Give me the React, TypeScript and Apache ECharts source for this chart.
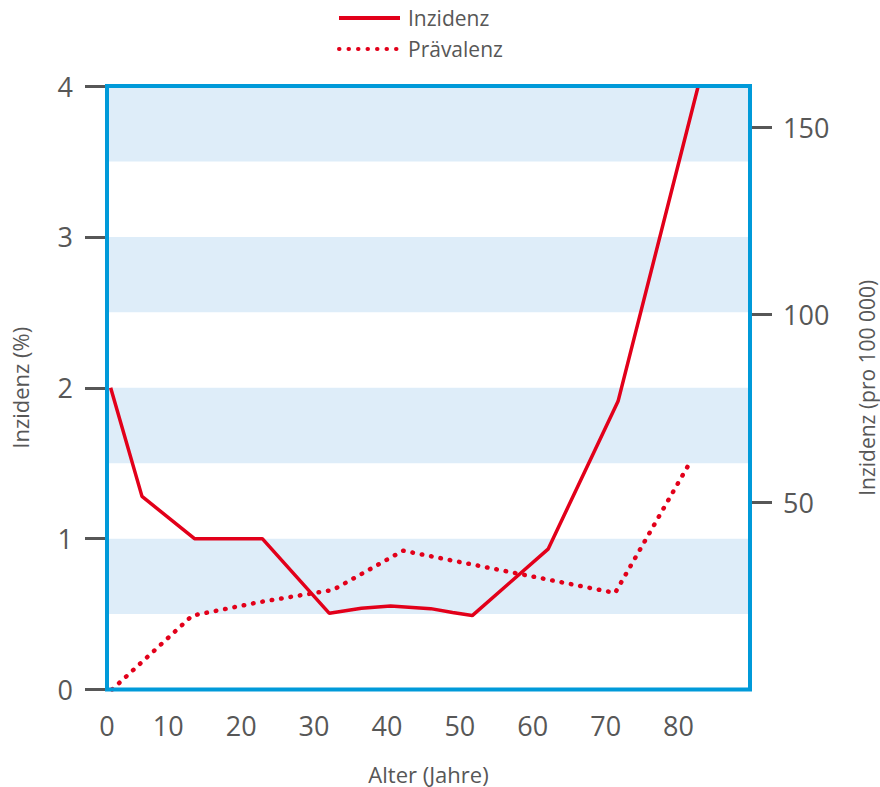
import React, { useEffect, useRef } from "react";
import * as echarts from "echarts";

const inzidenzAge = [2.1, 6.4, 13.6, 22.9, 32.1, 36.5, 40.5, 46, 49, 51.7, 62.1, 71.7, 82.7];
const inzidenzVal = [2.0, 1.28, 1.0, 1.0, 0.505, 0.538, 0.553, 0.536, 0.51, 0.49, 0.93, 1.91, 4.0];
const praevAge = [2.3, 13.3, 22.6, 32.6, 42.2, 71.3, 81.5];
const praevVal = [0, 0.49, 0.58, 0.66, 0.92, 0.64, 1.5];
const xTickValues = [1.6, 10, 20, 30, 40, 50, 60, 70, 80];
const leftTicks = [0, 1, 2, 3, 4];
const rightTicks = [50, 100, 150];

const RED = "#e2001a";
const BLUE = "#009ad9";
const BAND = "#deedf9";
const GREY = "#575757";
const FONT = "Open Sans";

export default function App() {
  const ref = useRef<HTMLDivElement>(null);
  useEffect(() => {
    const chart = echarts.init(ref.current!, null, { renderer: "svg" });
    chart.setOption({
      animation: false,
      textStyle: { fontFamily: FONT, color: GREY },
      legend: {
        orient: "vertical",
        left: 332,
        top: 2,
        itemWidth: 61,
        itemHeight: 14,
        itemGap: 9,
        itemStyle: { opacity: 0 },
        lineStyle: { width: 4 },
        textStyle: { fontSize: 21, color: GREY, fontFamily: FONT, lineHeight: 22, padding: [0, 0, 0, 3] },
        data: ["Inzidenz", "Prävalenz"],
      },
      grid: {
        left: 107,
        right: 130,
        top: 86,
        bottom: 97.5,
        outerBoundsMode: "none",
        containLabel: false,
        show: true,
        borderColor: BLUE,
        borderWidth: 4,
        backgroundColor: "transparent",
        z: 10,
      },
      xAxis: {
        type: "value",
        min: 1.6,
        max: 89.8,
        name: "Alter (Jahre)",
        nameLocation: "middle",
        nameGap: 73,
        nameTextStyle: { fontSize: 22, color: GREY, fontFamily: FONT },
        axisLine: { show: false },
        axisTick: { show: false },
        splitLine: { show: false },
        axisLabel: {
          customValues: xTickValues,
          fontSize: 27,
          color: GREY,
          margin: 22,
          fontFamily: FONT,
          formatter: (v: number) => (v < 5 ? "0" : String(v)),
        },
      },
      yAxis: [
        {
          type: "value",
          min: 0,
          max: 4,
          interval: 1,
          position: "left",
          name: "Inzidenz (%)",
          nameLocation: "middle",
          nameGap: 76,
          nameTextStyle: { fontSize: 22, color: GREY, fontFamily: FONT },
          axisLine: { show: false },
          axisTick: { show: true, length: 22, inside: false, lineStyle: { color: GREY, width: 3 }, customValues: leftTicks },
          axisLabel: { fontSize: 27, color: GREY, margin: 34, fontFamily: FONT, customValues: leftTicks },
          splitLine: { show: false },
        },
        {
          type: "value",
          min: 0,
          max: 161,
          position: "right",
          name: "Inzidenz (pro 100 000)",
          nameLocation: "middle",
          nameGap: 106,
          nameRotate: 90,
          nameTextStyle: { fontSize: 21, color: GREY, fontFamily: FONT },
          axisLine: { show: false },
          axisTick: { show: true, length: 22, lineStyle: { color: GREY, width: 3 }, customValues: rightTicks },
          axisLabel: { fontSize: 27, color: GREY, margin: 33, fontFamily: FONT, customValues: rightTicks },
          splitLine: { show: false },
        },
        {
          type: "value",
          min: 0,
          max: 4,
          interval: 0.5,
          position: "left",
          axisLine: { show: false },
          axisTick: { show: false },
          axisLabel: { show: false },
          splitLine: { show: false },
          splitArea: { show: true, areaStyle: { color: ["rgba(0,0,0,0)", BAND] } },
        },
      ],
      series: [
        {
          name: "Inzidenz",
          type: "line",
          yAxisIndex: 0,
          symbol: "none",
          data: inzidenzAge.map((a, i) => [a, inzidenzVal[i]]),
          lineStyle: { color: RED, width: 3.5 },
          itemStyle: { color: RED },
          z: 5,
        },
        {
          name: "Prävalenz",
          type: "line",
          yAxisIndex: 0,
          symbol: "none",
          data: praevAge.map((a, i) => [a, praevVal[i]]),
          lineStyle: { color: RED, width: 4.5, type: [0.5, 9], cap: "round" },
          itemStyle: { color: RED },
          z: 5,
        },
      ],
    });
    return () => chart.dispose();
  }, []);
  return <div ref={ref} style={{ position: "absolute", left: 0, top: 0, width: 880, height: 787 }} />;
}
